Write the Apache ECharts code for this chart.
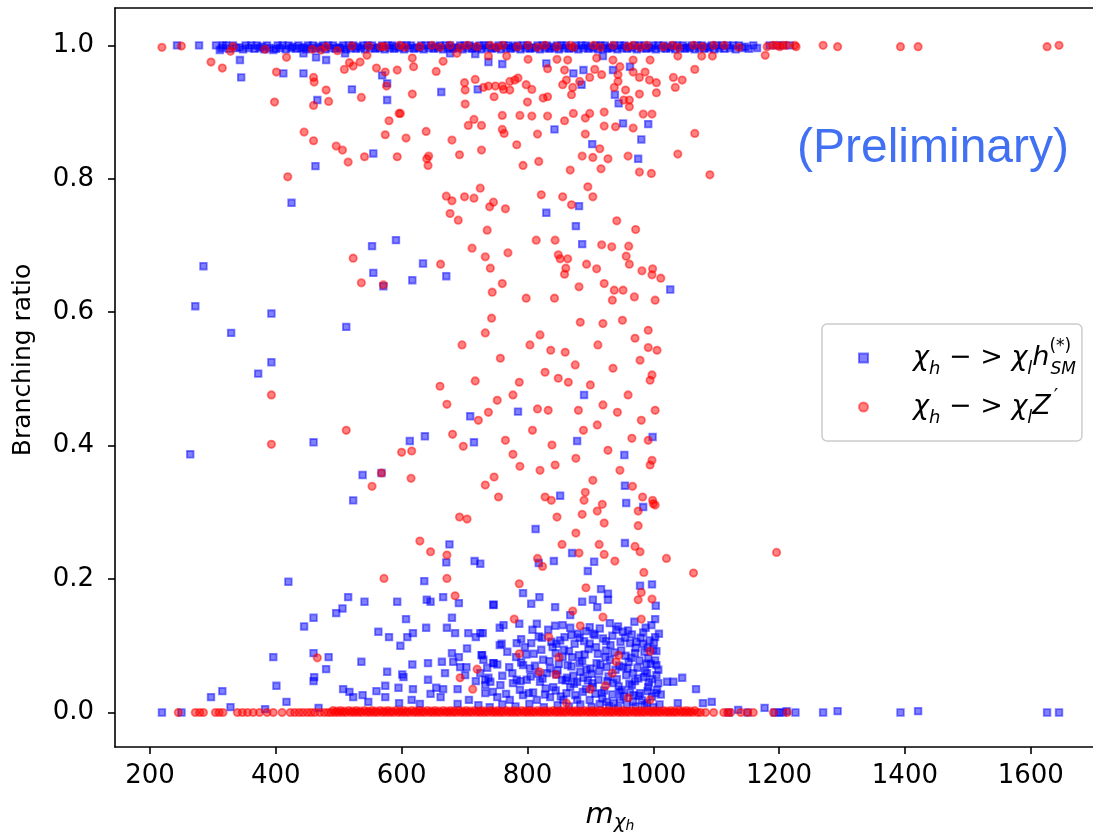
<!DOCTYPE html>
<html>
<head>
<meta charset="utf-8">
<script src="https://cdn.jsdelivr.net/npm/echarts@6/dist/echarts.min.js"></script>
<style>
  html, body { margin: 0; padding: 0; background: #fff; }
  #main { width: 1093px; height: 832px; }
</style>
</head>
<body>
<div id="main"></div>
<script>
const xTicks = [200, 400, 600, 800, 1000, 1200, 1400, 1600]
const yTicks = [0, 0.2, 0.4, 0.6, 0.8, 1.0]

// chi_h -> chi_l h_SM  (blue squares)
const blueTop = [
  [243,1],[278,1],[305,1],[311,0.993],[316,1],[321,1],[332,1],[343,0.997],[352,1],[361,1],[370,1],[378,0.998],
  [386,1],[396,0.993],[403,1],[411,1],[420,1],[427,0.998],[436,1],[444,0.997],[451,1],[459,1],[468,0.998],
  [475,1],[483,1],[491,1],[500,0.997],[507,1],[516,1],[523,1],[530,0.998],[539,1],[546,1],[553,1],[562,0.997],
  [569,1],[578,1],[585,1],[591,0.998],[600,1],[608,1],[615,1],[624,0.997],[631,1],[638,1],[647,1],[654,0.998],
  [661,1],[670,1],[677,1],[684,0.997],[693,1],[700,1],[708,1],[715,0.998],[724,1],[731,1],[738,1],[747,0.997],
  [754,1],[762,1],[770,1],[777,0.998],[784,1],[793,1],[800,1],[807,0.997],[816,1],[824,1],[831,1],[838,0.998],
  [847,1],[854,1],[861,1],[870,0.997],[877,1],[886,1],[893,1],[900,0.998],[909,1],[916,1],[923,1],[931,0.997],
  [938,1],[947,1],[954,1],[961,0.998],[970,1],[977,1],[986,1],[993,0.997],[1000,1],[1008,1],[1016,1],[1023,0.998],
  [1031,1],[1038,1],[1047,1],[1054,0.997],[1061,1],[1070,1],[1077,1],[1085,0.998],[1093,1],[1101,1],[1109,1],
  [1118,1],[1127,1],[1136,1],[1146,0.998],[1159,1],[1185,1],[1197,1],[1206,1],[1217,1]
]
const blueTopFill = [
  [314,0.996],[326,0.995],[337,0.996],[348,0.994],[357,0.996],[366,0.995],[374,0.996],[382,0.994],[390,0.996],
  [400,0.995],[407,0.996],[416,0.994],[424,0.996],[432,0.995],[440,0.996],[448,0.994],[455,0.996],[463,0.995],
  [472,0.996],[479,0.994],[487,0.996],[495,0.995],[503,0.996],[512,0.994],[519,0.996],[527,0.995],[535,0.996],
  [542,0.994],[550,0.996],[558,0.995],[565,0.996],[573,0.994],[581,0.996],[588,0.995],[596,0.996],[604,0.994],
  [612,0.996],[620,0.995],[628,0.996],[635,0.994],[643,0.996],[651,0.995],[658,0.996],[666,0.994],[673,0.996],
  [681,0.995],[689,0.996],[697,0.994],[704,0.996],[712,0.995],[720,0.996],[727,0.994],[735,0.996],[743,0.995],
  [750,0.996],[758,0.994],[766,0.996],[773,0.995],[781,0.996],[789,0.994],[797,0.996],[804,0.995],[812,0.996],
  [820,0.994],[828,0.996],[835,0.995],[843,0.996],[850,0.994],[858,0.996],[866,0.995],[874,0.996],[881,0.994],
  [889,0.996],[897,0.995],[905,0.996],[912,0.994],[920,0.996],[927,0.995],[935,0.996],[943,0.994],[950,0.996],
  [958,0.995],[966,0.996],[974,0.994],[981,0.996],[989,0.995],[997,0.996],[1004,0.994],[1012,0.996],[1020,0.995],
  [1027,0.996],[1035,0.994],[1043,0.996],[1050,0.995],[1058,0.996],[1066,0.994],[1073,0.996],[1081,0.995],
  [1089,0.996],[1097,0.994],[1105,0.996],[1113,0.995],[1122,0.996],[1131,0.994],[1141,0.996],[1152,0.995],[1165,0.996]
]
const blueUpper = [
  [343,0.978],[345,0.952],[412,0.958],[444,0.958],[444,0.988],[464,0.982],[480,0.978],[466,0.918],[521,0.934],
  [555,0.838],[463,0.819],[425,0.764],[569,0.955],[577,0.943],[577,0.918],[510,0.988],[677,0.988],[717,0.987],
  [738,0.975],[760,0.972],[663,0.930],[721,0.934],[830,0.973],[873,0.958],[889,0.963],[886,0.941],[920,0.984],
  [936,0.963],[939,0.926],[945,0.913],[963,0.968],[952,0.883],[992,0.882],[981,0.859],[976,0.830],[843,0.874],
  [903,0.852],[830,0.749],[882,0.759],[877,0.729],[887,0.702]
]
const blueMid = [
  [285,0.669],[272,0.609],[591,0.708],[553,0.699],[555,0.659],[571,0.639],[634,0.673],[617,0.648],[671,0.654],
  [1027,0.634],[329,0.569],[512,0.578],[393,0.598],[393,0.525],[372,0.508],[264,0.387],[460,0.405],[538,0.356],
  [523,0.318],[568,0.359],[613,0.407],[637,0.414],[709,0.444],[715,0.405],[785,0.451],[852,0.325],[879,0.407],
  [890,0.476],[954,0.386],[955,0.340],[999,0.413],[957,0.314],[984,0.308]
]
const blueLow = [
  [297,0.023],[315,0.032],[396,0.083],[401,0.040],[417,0.016],[420,0.196],[445,0.129],[460,0.142],[460,0.089],
  [461,0.053],[460,0.047],[484,0.083],[480,0.065],[496,0.149],[506,0.156],[515,0.173],[541,0.166],[507,0.035],
  [517,0.031],[523,0.023],[536,0.076],[538,0.026],[547,0.016],[560,0.032],[577,0.061],[574,0.040],[574,0.023],
  [563,0.121],[580,0.113],[593,0.166],[598,0.100],[595,0.037],[603,0.053],[601,0.057],[607,0.140],[609,0.113],
  [618,0.119],[617,0.072],[618,0.035],[616,0.019],[636,0.197],[640,0.169],[646,0.166],[639,0.127],[642,0.074],
  [642,0.049],[646,0.028],[655,0.037],[666,0.173],[664,0.076],[666,0.035],[662,0.023],[671,0.225],[676,0.252],
  [672,0.127],[680,0.142],[685,0.119],[669,0.059],[691,0.164],[680,0.089],[682,0.076],[691,0.083],[689,0.035],
  [704,0.096],[703,0.068],[693,0.068],[701,0.056],[706,0.119],[716,0.227],[725,0.223],[729,0.119],[718,0.113],
  [727,0.086],[718,0.047],[746,0.162],[756,0.127],[756,0.101],[746,0.074],[736,0.067],[733,0.049],[733,0.029],
  [813,0.275],[955,0.254],[871,0.239],[842,0.227],[818,0.224],[906,0.226],[896,0.212],[979,0.190],[998,0.192],
  [917,0.185],[928,0.178],[928,0.169],[793,0.179],[819,0.173],[746,0.161],[806,0.163],[844,0.158],[887,0.166],
  [904,0.169],[911,0.158],[868,0.146],[997,0.131],[970,0.136],[787,0.133],[815,0.133],[856,0.131],[844,0.130],
  [899,0.128],[931,0.134],[762,0.131],[725,0.119],[728,0.086],[759,0.103],[783,0.104],[806,0.104],[833,0.124],
  [838,0.106],[846,0.103],[859,0.113],[875,0.103],[883,0.112],[899,0.103],[907,0.116],[925,0.107],[941,0.124],
  [952,0.121],[963,0.104],[984,0.103],[1003,0.113],[971,0.089],[992,0.081],[1005,0.071],[1005,0.056],[1022,0.046],
  [1032,0.046],[1046,0.052],[1068,0.035],[1012,0.027],[1039,0.014],[1079,0.014],[1093,0.016],[1177,0.007],
  [730,0.079],[746,0.074],[776,0.059],[793,0.071],[804,0.066],[825,0.079],[831,0.059],[856,0.083],[864,0.071],
  [883,0.074],[894,0.064],[910,0.074],[926,0.068],[952,0.068],[968,0.059],[990,0.059],[741,0.046],[757,0.041],
  [777,0.044],[799,0.049],[820,0.046],[841,0.038],[855,0.049],[868,0.038],[879,0.046],[888,0.031],[904,0.038],
  [918,0.029],[936,0.044],[947,0.031],[966,0.041],[979,0.029],[992,0.038],[752,0.023],[772,0.019],[793,0.026],
  [815,0.019],[836,0.023],[857,0.019],[879,0.019],[899,0.019],[926,0.016],[947,0.019],[968,0.016],[990,0.014],
  [725,0.059],[733,0.041]
]
const blueCloud = [
  [722,0.011],[740,0.008],[760,0.012],[781,0.009],[803,0.013],[826,0.008],[848,0.011],[866,0.009],[884,0.012],
  [902,0.008],[915,0.013],[930,0.010],[944,0.007],[958,0.012],[972,0.009],[986,0.011],[1000,0.008],[1010,0.012],
  [745,0.031],[766,0.028],[788,0.034],[809,0.030],[828,0.027],[845,0.033],[862,0.029],[876,0.026],[893,0.035],
  [908,0.028],[922,0.033],[935,0.027],[950,0.034],[963,0.030],[977,0.025],[991,0.032],[1004,0.029],
  [738,0.052],[760,0.055],[783,0.049],[805,0.054],[824,0.051],[846,0.057],[861,0.048],[873,0.055],[889,0.052],
  [902,0.058],[913,0.049],[929,0.054],[942,0.050],[957,0.056],[971,0.047],[985,0.053],[998,0.050],[1008,0.044],
  [752,0.072],[771,0.068],[790,0.075],[812,0.070],[836,0.066],[850,0.073],[870,0.069],[887,0.077],[900,0.066],
  [916,0.072],[931,0.079],[946,0.070],[961,0.076],[975,0.067],[989,0.073],[1003,0.078],
  [768,0.091],[798,0.087],[822,0.094],[845,0.089],[866,0.092],[882,0.086],[897,0.095],[912,0.088],[925,0.093],
  [938,0.090],[956,0.085],[972,0.097],[986,0.091],[1000,0.094],
  [790,0.110],[818,0.114],[852,0.108],[870,0.116],[890,0.107],[905,0.118],[920,0.111],[935,0.115],[948,0.106],
  [966,0.117],[980,0.112],[994,0.108],[808,0.124],[868,0.127],[893,0.122],[915,0.126],[944,0.129],[960,0.123],
  [988,0.127]
]
const blueCloudDense = [
  [903,0.044],[909,0.098],[914,0.062],[919,0.021],[924,0.083],[927,0.047],[932,0.101],[937,0.014],[940,0.064],
  [945,0.039],[949,0.093],[953,0.024],[955,0.112],[959,0.066],[962,0.043],[965,0.082],[969,0.026],[973,0.106],
  [976,0.051],[978,0.078],[982,0.018],[984,0.120],[987,0.062],[991,0.097],[993,0.045],[996,0.073],[998,0.024],
  [1001,0.105],[1003,0.140],[1004,0.160],[1005,0.092],[1006,0.034],[1008,0.064],[1009,0.118],
  [782,0.083],[789,0.047],[796,0.098],[802,0.029],[810,0.088],[817,0.058],[823,0.112],[829,0.036],[835,0.077],
  [840,0.098],[848,0.063],[853,0.024],[858,0.094],[863,0.052],[871,0.083],[874,0.043],[880,0.118],[884,0.061],
  [891,0.087],[896,0.048]
]
const blueZero = [
  [219,0],[250,0],[328,0.008],[383,0.005],[468,0.007],[596,0.014],[629,0.013],[689,0.013],[707,0.019],
  [1120,0],[1135,0.004],[1150,0],[1193,0],[1200,0],[1206,0],[1212,0.002],[1226,0],[1270,0],[1293,0.002],
  [1393,0],[1421,0.002],[1626,0],[1645,0]
]

// chi_h -> chi_l Z'  (red circles)
const redTop = [
  [219,0.997],[250,0.999],[332,0.998],[383,0.994],[458,0.994],[472,0.993],[480,0.998],[498,0.992],[521,0.999],
  [548,0.999],[567,0.998],[573,0.998],[597,1],[605,0.997],[629,0.998],[648,1],[661,0.997],[677,1],[693,0.997],
  [705,1],[720,0.998],[741,1],[752,0.997],[761,1],[784,0.998],[801,1],[816,0.997],[828,1],[847,0.998],[868,1],
  [873,0.997],[905,1],[916,0.997],[936,1],[959,0.998],[968,1],[979,0.997],[990,1],[1016,0.998],[1030,1],
  [1040,0.997],[1064,1],[1078,0.998],[1096,1],[1113,1],[1136,0.997],[1178,0.985],[1181,0.998],[1190,1],
  [1196,1],[1201,0.998],[1206,1],[1212,1],[1225,1],[1227,0.998],[1270,1],[1293,0.998],[1393,0.998],
  [1421,0.998],[1626,0.998],[1645,1]
]
const redUpper = [
  [297,0.975],[315,0.966],[328,0.991],[401,0.960],[417,0.982],[398,0.915],[445,0.870],[460,0.857],[419,0.803],
  [460,0.952],[461,0.945],[460,0.910],[480,0.933],[484,0.916],[509,0.964],[517,0.974],[523,0.969],[534,0.975],
  [536,0.922],[496,0.849],[506,0.843],[515,0.825],[541,0.833],[545,0.985],[560,0.966],[574,0.960],[576,0.939],
  [580,0.887],[574,0.866],[593,0.963],[593,0.833],[596,0.898],[617,0.981],[619,0.968],[666,0.976],[655,0.961],
  [688,0.988],[738,0.984],[767,0.984],[801,0.979],[847,0.979],[864,0.978],[859,0.963],[862,0.948],[899,0.952],
  [907,0.964],[918,0.956],[944,0.956],[947,0.968],[968,0.960],[987,0.960],[995,0.978],[968,0.978],[936,0.978],
  [910,0.981],[832,0.965],[785,0.951],[780,0.948],[772,0.946],[760,0.939],[738,0.939],[730,0.937],[717,0.949],
  [700,0.944],[701,0.933],[749,0.939],[762,0.934],[772,0.933],[798,0.941],[807,0.934],[747,0.923],[701,0.912],
  [617,0.927],[856,0.941],[872,0.937],[870,0.926],[883,0.946],[938,0.937],[956,0.933],[944,0.946],[978,0.952],
  [994,0.948],[1005,0.944],[978,0.927],[1005,0.929],[825,0.921],[832,0.923],[800,0.915],[962,0.918],[953,0.918],
  [962,0.908],[1032,0.952],[1046,0.948],[1035,0.937],[1066,0.964],[1039,0.984],[1077,0.984],[1094,0.984],
  [598,0.898],[760,0.895],[788,0.895],[807,0.894],[832,0.894],[873,0.898],[899,0.898],[922,0.900],[984,0.897],
  [998,0.897],[859,0.887],[892,0.891],[922,0.879],[940,0.878],[968,0.876],[715,0.889],[727,0.880],[706,0.880],
  [639,0.871],[607,0.861],[680,0.858],[760,0.874],[763,0.868],[816,0.867],[783,0.851],[892,0.867],[1066,0.868],
  [692,0.836],[727,0.843],[640,0.830],[643,0.834],[642,0.820],[793,0.820],[818,0.826],[868,0.813],[887,0.834],
  [904,0.832],[915,0.845],[928,0.830],[917,0.815],[960,0.834],[978,0.810],[997,0.808],[1039,0.837],[1090,0.806]
]
const redMid = [
  [725,0.786],[896,0.788],[671,0.774],[680,0.767],[700,0.773],[715,0.771],[746,0.765],[740,0.758],[765,0.755],
  [822,0.776],[856,0.773],[870,0.761],[904,0.773],[677,0.748],[690,0.738],[942,0.737],[972,0.724],[736,0.723],
  [814,0.708],[844,0.708],[918,0.701],[934,0.698],[961,0.699],[712,0.696],[733,0.683],[769,0.689],[849,0.686],
  [852,0.680],[864,0.680],[957,0.684],[962,0.672],[662,0.672],[741,0.666],[861,0.666],[859,0.657],[894,0.672],
  [910,0.665],[982,0.662],[999,0.665],[1012,0.651],[760,0.643],[922,0.643],[938,0.633],[952,0.633],[882,0.638],
  [744,0.630],[970,0.623],[798,0.621],[843,0.621],[523,0.681],[536,0.644],[571,0.641],
  [393,0.476],[393,0.402],[512,0.423],[553,0.339],[568,0.359],[615,0.351],[600,0.390],[616,0.392],[661,0.489],
  [672,0.462],[681,0.417],[698,0.399],[722,0.438],[717,0.497],[696,0.551],[733,0.569],[743,0.591],[757,0.531],
  [752,0.468],[738,0.450],[777,0.476],[787,0.495],[765,0.408],[777,0.387],[788,0.369],[747,0.353],[754,0.323],
  [733,0.341],[804,0.551],[820,0.566],[837,0.543],[828,0.510],[849,0.501],[860,0.540],[816,0.455],[808,0.423],
  [833,0.453],[839,0.401],[820,0.363],[828,0.323],[844,0.371],[876,0.521],[865,0.495],[884,0.585],[912,0.551],
  [900,0.491],[881,0.453],[889,0.423],[911,0.431],[877,0.381],[892,0.330],[904,0.348],[935,0.618],[920,0.583],
  [951,0.588],[971,0.561],[992,0.547],[979,0.528],[998,0.506],[936,0.516],[960,0.476],[920,0.461],[943,0.450],
  [981,0.438],[1003,0.453],[966,0.411],[928,0.393],[947,0.363],[995,0.371],[967,0.339],[983,0.323],[1003,0.311],
  [998,0.656],[1003,0.618],[992,0.573],[1006,0.543],[995,0.498],[992,0.408],[998,0.378],[999,0.318]
]
const redLow = [
  [692,0.293],[704,0.290],[629,0.257],[646,0.241],[672,0.236],[572,0.201],[672,0.201],[685,0.175],[466,0.082],
  [720,0.065],[693,0.052],[713,0.035],[838,0.318],[890,0.318],[919,0.312],[911,0.302],[1000,0.313],[976,0.302],
  [847,0.293],[887,0.297],[922,0.284],[976,0.280],[877,0.269],[855,0.252],[914,0.252],[882,0.239],[922,0.237],
  [816,0.231],[939,0.227],[971,0.249],[979,0.241],[1021,0.231],[824,0.219],[985,0.210],[1064,0.209],[1196,0.240],
  [787,0.193],[893,0.187],[981,0.180],[976,0.169],[998,0.170],[872,0.152],[920,0.143],[981,0.140],[779,0.140],
  [884,0.130],[834,0.113],[787,0.088],[850,0.083],[945,0.086],[941,0.076],[995,0.092],[819,0.061],[845,0.057],
  [935,0.059],[924,0.040],[900,0.035],[960,0.022],[995,0.019],[862,0.014]
]
const redZero = [
  [245,0],[272,0],[279,0],[285,0],[304,0],[310,0],[316,0],[339,0],[347,0],[355,0],[364,0],[374,0],[386,0],
  [396,0],[410,0],[423,0],[430,0],[437,0],[443,0],[450,0],[456,0],[462,0],[470,0],[477,0],[483,0],[488,0],
  [494,0],[500,0],[506,0],[512,0],[519,0],[525,0],[531,0],[537,0],[544,0],[550,0],[556,0],[562,0],[569,0],
  [575,0],[581,0],[587,0],[594,0],[600,0],[606,0],[612,0],[619,0],[625,0],[631,0],[637,0],[644,0],[650,0],
  [656,0],[662,0],[669,0],[675,0],[681,0],[687,0],[694,0],[700,0],[706,0],[712,0],[719,0],[725,0],[731,0],
  [737,0],[744,0],[750,0],[756,0],[762,0],[769,0],[775,0],[781,0],[787,0],[794,0],[800,0],[806,0],[812,0],
  [819,0],[825,0],[831,0],[837,0],[844,0],[850,0],[856,0],[862,0],[869,0],[875,0],[881,0],[887,0],[894,0],
  [900,0],[906,0],[912,0],[919,0],[925,0],[931,0],[937,0],[944,0],[950,0],[956,0],[962,0],[969,0],[975,0],
  [981,0],[987,0],[994,0],[1000,0],[1006,0],[1012,0],[1019,0],[1025,0],[1031,0],[1037,0],[1044,0],[1050,0],
  [1056,0],[1062,0],[1070,0],[1075,0],[1083,0],[1096,0],[1112,0],[1118,0],[1123,0],[1139,0],[1150,0],
  [1159,0],[1191,0],[1213,0]
]
const redZeroFill = [
  [491,0.003],[497,0.002],[503,0.003],[509,0.002],[516,0.003],[522,0.002],[528,0.003],[534,0.002],[541,0.003],
  [547,0.002],[553,0.003],[559,0.002],[566,0.003],[572,0.002],[578,0.003],[584,0.002],[591,0.003],[597,0.002],
  [603,0.003],[609,0.002],[616,0.003],[622,0.002],[628,0.003],[634,0.002],[641,0.003],[647,0.002],[653,0.003],
  [659,0.002],[666,0.003],[672,0.002],[678,0.003],[684,0.002],[691,0.003],[697,0.002],[703,0.003],[709,0.002],
  [716,0.003],[722,0.002],[728,0.003],[734,0.002],[741,0.003],[747,0.002],[753,0.003],[759,0.002],[766,0.003],
  [772,0.002],[778,0.003],[784,0.002],[791,0.003],[797,0.002],[803,0.003],[809,0.002],[816,0.003],[822,0.002],
  [828,0.003],[834,0.002],[841,0.003],[847,0.002],[853,0.003],[859,0.002],[866,0.003],[872,0.002],[878,0.003],
  [884,0.002],[891,0.003],[897,0.002],[903,0.003],[909,0.002],[916,0.003],[922,0.002],[928,0.003],[934,0.002],
  [941,0.003],[947,0.002],[953,0.003],[959,0.002],[966,0.003],[972,0.002],[978,0.003],[984,0.002],[991,0.003],
  [997,0.002],[1003,0.003],[1009,0.002],[1016,0.003],[1022,0.002],[1028,0.003],[1034,0.002],[1041,0.003],
  [1047,0.002],[1053,0.003],[1059,0.002],[1066,0.003]
]

const blueData = [...blueTop, ...blueTopFill, ...blueUpper, ...blueMid, ...blueLow, ...blueCloud, ...blueCloudDense, ...blueZero]
const redData = [...redTop, ...redUpper, ...redMid, ...redLow, ...redZero, ...redZeroFill]

const FONT = 'DejaVu Sans'
const legendRich = {
  c: { fontFamily: FONT, fontStyle: 'italic', fontSize: 27, color: '#000', lineHeight: 40 },
  n: { fontFamily: FONT, fontSize: 27, color: '#000', lineHeight: 40 },
  s: { fontFamily: FONT, fontStyle: 'italic', fontSize: 18, color: '#000', lineHeight: 24, verticalAlign: 'bottom' },
  p: { fontFamily: FONT, fontSize: 17, color: '#000', lineHeight: 22, verticalAlign: 'top', width: 1 },
  q: { fontFamily: FONT, fontStyle: 'italic', fontSize: 17, color: '#000', lineHeight: 24, verticalAlign: 'bottom' },
  r: { fontFamily: FONT, fontSize: 20, color: '#000', lineHeight: 28, verticalAlign: 'top', padding: [0, 0, 0, 3] }
}

const chart = echarts.init(document.getElementById('main'))
chart.setOption({
  animation: false,
  backgroundColor: '#fff',
  grid: { left: 115, right: 0, top: 8, bottom: 85, outerBoundsMode: 'none', containLabel: false },
  xAxis: [{
    type: 'value', min: 144.4, max: 1699,
    axisLine: { show: true, onZero: false, lineStyle: { color: '#000', width: 1.6 } },
    axisTick: { show: true, inside: false, length: 7, lineStyle: { color: '#000', width: 1.6 }, customValues: xTicks },
    axisLabel: { customValues: xTicks, margin: 16, color: '#000', fontFamily: FONT, fontSize: 26,
      formatter: v => String(v) },
    splitLine: { show: false },
    name: '{m|m}{c|χ}{h|h}',
    nameLocation: 'middle',
    nameGap: 50,
    nameTextStyle: {
      padding: [0, 0, 0, 12],
      rich: {
        m: { fontFamily: FONT, fontStyle: 'italic', fontSize: 29, color: '#000', lineHeight: 36 },
        c: { fontFamily: FONT, fontStyle: 'italic', fontSize: 20, color: '#000', lineHeight: 24, verticalAlign: 'bottom' },
        h: { fontFamily: FONT, fontStyle: 'italic', fontSize: 14, color: '#000', lineHeight: 14, verticalAlign: 'bottom' }
      }
    }
  }, {
    type: 'value', position: 'top', min: 144.4, max: 1699,
    axisLine: { show: true, onZero: false, lineStyle: { color: '#000', width: 1.6 } },
    axisTick: { show: false }, axisLabel: { show: false }, splitLine: { show: false }
  }],
  yAxis: {
    type: 'value', min: -0.0517, max: 1.056,
    axisLine: { show: true, onZero: false, lineStyle: { color: '#000', width: 1.6 } },
    axisTick: { show: true, inside: false, length: 7, lineStyle: { color: '#000', width: 1.6 }, customValues: yTicks },
    axisLabel: { customValues: yTicks, margin: 21, color: '#000', fontFamily: FONT, fontSize: 26,
      formatter: v => v.toFixed(1) },
    splitLine: { show: false }
  },
  legend: {
    orient: 'vertical',
    left: 822, top: 324,
    padding: [14, 6, 14, 36],
    itemWidth: 9, itemHeight: 9,
    itemGap: 9,
    backgroundColor: '#fff',
    borderColor: '#cccccc', borderWidth: 1.5, borderRadius: 5,
    textStyle: { padding: [0, 0, 0, 40], rich: legendRich },
    formatter: name => name === 'h'
      ? '{c|χ}{s|h}{n| − > }{c|χ}{s|l}{c|h}{p|(*)}{q|SM}'
      : '{c|χ}{s|h}{n| − > }{c|χ}{s|l}{c|Z}{r|′}',
    data: ['h', 'z']
  },
  graphic: [{
    type: 'text', left: 797, top: 125,
    style: { text: '(Preliminary)', fontFamily: 'Liberation Sans', fontSize: 48, fill: '#4170f2' }
  }, {
    type: 'text', x: 23, y: 360, rotation: Math.PI / 2,
    style: { text: 'Branching ratio', fontFamily: FONT, fontSize: 25, fill: '#000', align: 'center', verticalAlign: 'middle' }
  }],
  series: [{
    name: 'h', type: 'scatter', symbol: 'rect', symbolSize: 6.6,
    itemStyle: { color: 'rgba(0,0,255,0.62)', borderColor: 'rgba(0,0,255,0.62)', borderWidth: 1.8 },
    data: blueData
  }, {
    name: 'z', type: 'scatter', symbol: 'circle', symbolSize: 7.4,
    itemStyle: { color: 'rgba(255,0,0,0.62)', borderColor: 'rgba(255,0,0,0.62)', borderWidth: 1.8 },
    data: redData
  }]
})
</script>
</body>
</html>
